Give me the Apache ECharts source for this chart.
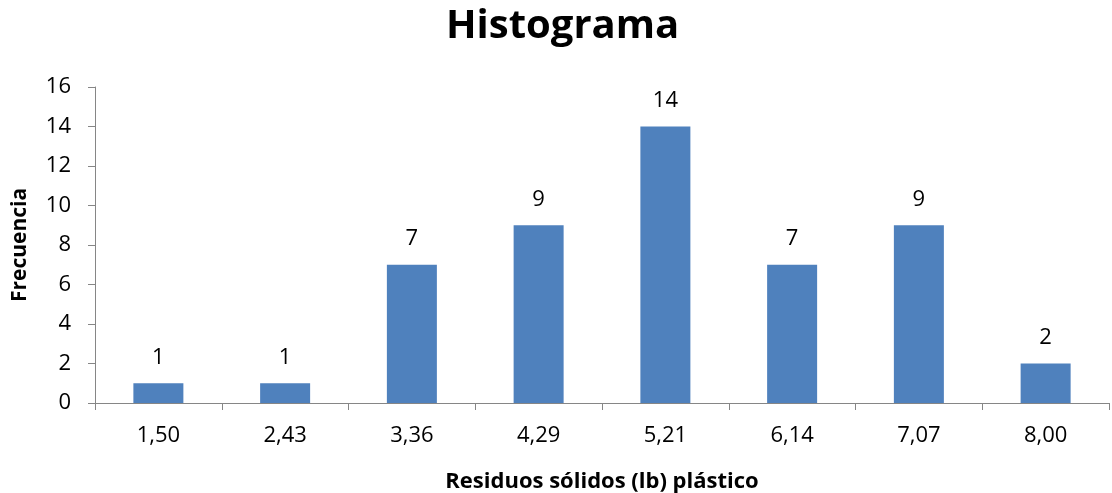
<!DOCTYPE html>
<html><head><meta charset="utf-8">
<script src="https://cdn.jsdelivr.net/npm/echarts@6/dist/echarts.min.js"></script>
<style>html,body{margin:0;padding:0;background:#fff}#c{width:1112px;height:493px}</style>
</head><body><div id="c"></div>
<script>
const categories = ['1,50','2,43','3,36','4,29','5,21','6,14','7,07','8,00'];
const frecuencia = [1, 1, 7, 9, 14, 7, 9, 2];
const yTicks = {min: 0, max: 16, interval: 2};

const font = '"Open Sans", "Noto Sans", "Liberation Sans", sans-serif';
const chart = echarts.init(document.getElementById('c'), null, {renderer: 'canvas'});
chart.setOption({
  animation: false,
  title: {
    text: 'Histograma', left: 441, top: 2,
    textStyle: {fontFamily: font, fontSize: 40, fontWeight: 'bold', color: '#000'}
  },
  grid: {left: 95, right: 3, top: 87, bottom: 90, containLabel: false, outerBoundsMode: 'none'},
  xAxis: {
    type: 'category', data: categories,
    name: 'Residuos sólidos (lb) plástico', nameLocation: 'middle', nameGap: 68,
    nameTextStyle: {fontFamily: font, fontSize: 22, fontWeight: 'bold', color: '#000'},
    axisLine: {lineStyle: {color: '#868686', width: 1}},
    axisTick: {show: true, length: 7, alignWithLabel: false, lineStyle: {color: '#868686'}},
    axisLabel: {fontFamily: font, fontSize: 22, color: '#000', margin: 22}
  },
  yAxis: {
    type: 'value', min: yTicks.min, max: yTicks.max, interval: yTicks.interval,
    name: 'Frecuencia', nameLocation: 'middle', nameGap: 64, nameRotate: 90,
    nameTextStyle: {fontFamily: font, fontSize: 21, fontWeight: 'bold', color: '#000'},
    axisLine: {show: true, lineStyle: {color: '#868686', width: 1}},
    axisTick: {show: true, length: 7, lineStyle: {color: '#868686'}},
    splitLine: {show: false},
    axisLabel: {fontFamily: font, fontSize: 22, color: '#000', margin: 24}
  },
  series: [{
    type: 'bar', data: frecuencia, barWidth: 50,
    itemStyle: {color: '#4F81BD'},
    label: {show: true, position: 'top', distance: 15, fontFamily: font, fontSize: 22, color: '#000'}
  }]
});
</script></body></html>
